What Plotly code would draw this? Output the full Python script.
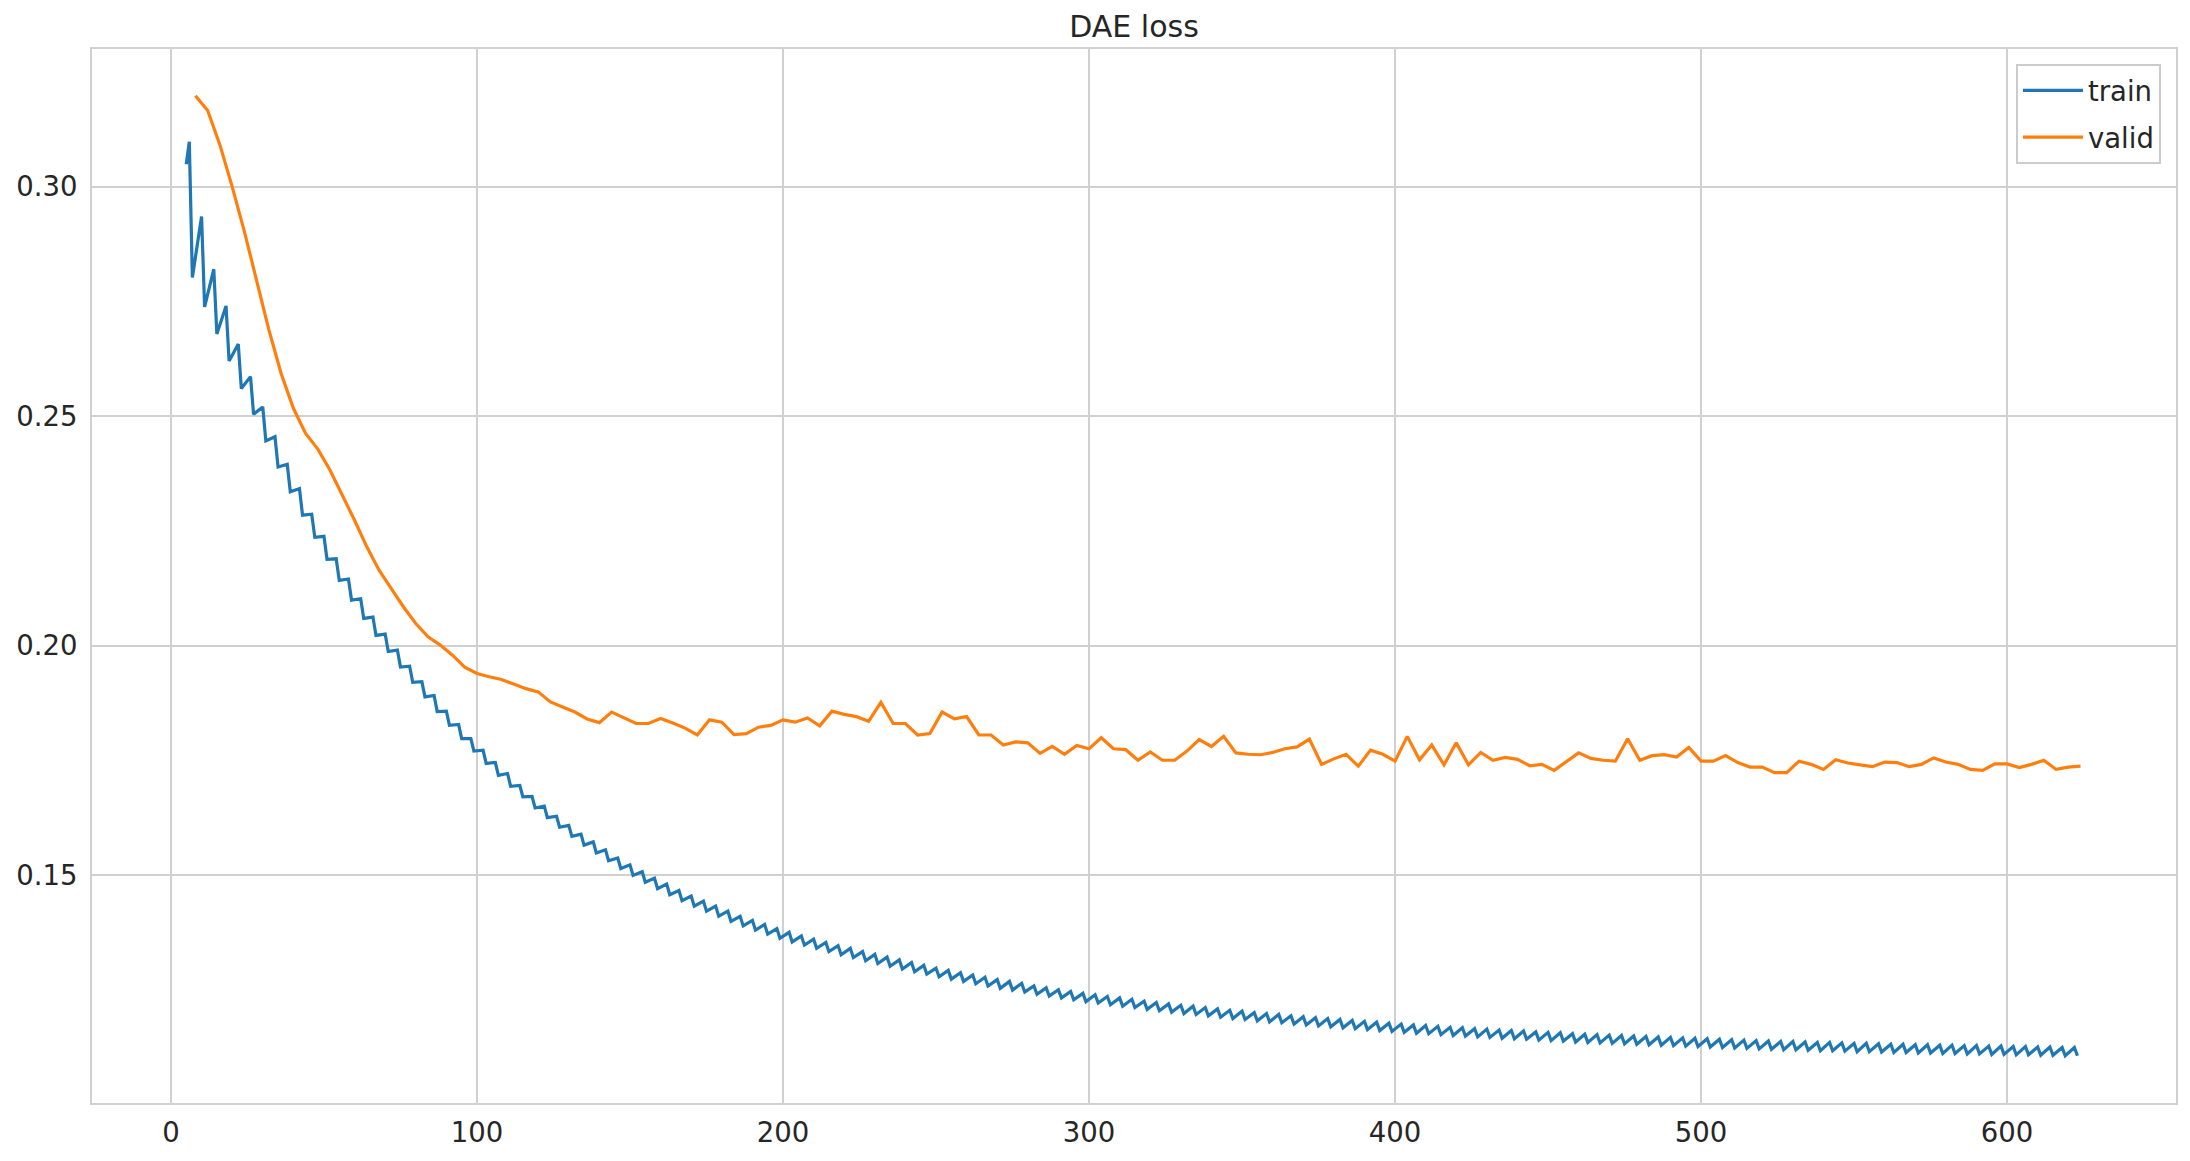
import plotly.graph_objects as go

# ---------------- data ----------------
train_first_epoch = 5
train_first_loss = 0.3049

# train loss sawtooth: peak at epochs 6, 10, ..., 622 ; trough at 7, 11, ..., 623
train_peaks = [
    0.3098, 0.2935, 0.2820, 0.2740, 0.2657, 0.2586, 0.2520, 0.2455, 0.2395, 0.2342,
    0.2286, 0.2238, 0.2189, 0.2145, 0.2102, 0.2062, 0.2025, 0.1990, 0.1955, 0.1921,
    0.1891, 0.1857, 0.1828, 0.1797, 0.1772, 0.1745, 0.1721, 0.1695,
    0.1671, 0.1650, 0.1628, 0.1608, 0.1589, 0.1572, 0.1555, 0.1537, 0.1522, 0.1507,
    0.1493, 0.1480, 0.1466, 0.1454, 0.1443, 0.1432, 0.1421, 0.1410, 0.1401, 0.1392,
    0.1383, 0.1375, 0.1367, 0.1360, 0.1353, 0.1346, 0.1340, 0.1333, 0.1327, 0.1321,
    0.1315, 0.1309, 0.1303, 0.1297, 0.1292, 0.1287, 0.1282, 0.1277, 0.1272, 0.1268,
    0.1264,
    0.1258, 0.1254, 0.1250, 0.1246, 0.1242, 0.1239, 0.1235, 0.1232, 0.1229, 0.1225,
    0.1222, 0.1219, 0.1216, 0.1214, 0.1211, 0.1208, 0.1205, 0.1203, 0.1200, 0.1198,
    0.1196, 0.1193, 0.1191, 0.1189, 0.1187, 0.1185, 0.1183, 0.1181, 0.1179, 0.1177,
    0.1175, 0.1173, 0.1172, 0.1170, 0.1168, 0.1167, 0.1165, 0.1164, 0.1162, 0.1161,
    0.1160, 0.1158, 0.1157, 0.1156, 0.1154, 0.1153, 0.1152, 0.1151, 0.1150, 0.1149,
    0.1148, 0.1147, 0.1146, 0.1145, 0.1144, 0.1143, 0.1142, 0.1141, 0.1140, 0.1139,
    0.1138, 0.1137, 0.1137, 0.1136, 0.1135, 0.1135, 0.1134, 0.1133, 0.1133, 0.1132,
    0.1131, 0.1131, 0.1130, 0.1130, 0.1129, 0.1129, 0.1128, 0.1128, 0.1127, 0.1127,
    0.1126, 0.1126, 0.1125, 0.1125, 0.1124, 0.1124,
]
train_troughs = [
    0.2802, 0.2738, 0.2679, 0.2620, 0.2560, 0.2504, 0.2446, 0.2389,
    0.2335, 0.2284, 0.2236, 0.2188, 0.2142, 0.2099, 0.2059, 0.2022, 0.1987, 0.1953,
    0.1920, 0.1888, 0.1856, 0.1826, 0.1797, 0.1770, 0.1743, 0.1717, 0.1693, 0.1670,
    0.1646, 0.1625, 0.1604, 0.1584, 0.1565, 0.1548, 0.1531, 0.1514, 0.1499, 0.1484,
    0.1470, 0.1457, 0.1444, 0.1432, 0.1421, 0.1410, 0.1399, 0.1389, 0.1380, 0.1371,
    0.1362,
    0.1354, 0.1347, 0.1340, 0.1333, 0.1326, 0.1320, 0.1313, 0.1307, 0.1301, 0.1295,
    0.1289, 0.1284, 0.1278, 0.1273, 0.1268, 0.1263, 0.1258, 0.1253, 0.1249, 0.1245,
    0.1240, 0.1236, 0.1232, 0.1228, 0.1224,
    0.1221, 0.1217, 0.1214, 0.1211, 0.1207, 0.1204, 0.1201, 0.1198, 0.1196, 0.1193,
    0.1190, 0.1187, 0.1185, 0.1182, 0.1180, 0.1178, 0.1175, 0.1173, 0.1171, 0.1169,
    0.1167, 0.1165, 0.1163, 0.1161, 0.1159, 0.1157, 0.1155, 0.1154, 0.1152, 0.1150,
    0.1149, 0.1147, 0.1146, 0.1144, 0.1143, 0.1142, 0.1140, 0.1139, 0.1138, 0.1136,
    0.1135, 0.1134, 0.1133, 0.1132, 0.1131, 0.1130, 0.1129, 0.1128, 0.1127, 0.1126,
    0.1125, 0.1124, 0.1123, 0.1122, 0.1121, 0.1120, 0.1119, 0.1119, 0.1118, 0.1117,
    0.1117, 0.1116, 0.1115, 0.1115, 0.1114, 0.1113, 0.1113, 0.1112, 0.1112, 0.1111,
    0.1111, 0.1110, 0.1110, 0.1109, 0.1109, 0.1108, 0.1108, 0.1107, 0.1107, 0.1106,
    0.1106,
]

valid_loss = [
    0.3198, 0.3166, 0.3091, 0.3000, 0.2902, 0.2797, 0.2688, 0.2593, 0.2517, 0.2462,
    0.2428, 0.2382, 0.2328, 0.2273, 0.2215, 0.2164, 0.2124, 0.2084, 0.2048, 0.2019,
    0.2001, 0.1979, 0.1953, 0.1939, 0.1932, 0.1926, 0.1916, 0.1906, 0.1899, 0.1877,
    0.1866, 0.1855, 0.1840, 0.1832, 0.1855, 0.1843, 0.1830, 0.1830, 0.1841, 0.1831,
    0.1820, 0.1805, 0.1838, 0.1833, 0.1806, 0.1808, 0.1822, 0.1826, 0.1838, 0.1833,
    0.1842, 0.1825, 0.1857, 0.1850, 0.1845, 0.1835, 0.1876, 0.1830, 0.1830, 0.1805,
    0.1808, 0.1855, 0.1840, 0.1845, 0.1805, 0.1805, 0.1783, 0.1790, 0.1788, 0.1765,
    0.1780, 0.1763, 0.1782, 0.1775, 0.1799, 0.1775, 0.1773, 0.1750, 0.1768, 0.1750,
    0.1750, 0.1770, 0.1795, 0.1780, 0.1802, 0.1766, 0.1763, 0.1762, 0.1767, 0.1775,
    0.1779, 0.1796, 0.1741, 0.1753, 0.1763, 0.1737, 0.1772, 0.1763, 0.1748, 0.1802,
    0.1751, 0.1783, 0.1740, 0.1788, 0.1740, 0.1767, 0.1750, 0.1756, 0.1752, 0.1738,
    0.1741, 0.1728, 0.1746, 0.1766, 0.1754, 0.1750, 0.1748, 0.1797, 0.1750, 0.1760,
    0.1762, 0.1757, 0.1778, 0.1748, 0.1748, 0.1760, 0.1745, 0.1735, 0.1735, 0.1723,
    0.1723, 0.1748, 0.1741, 0.1730, 0.1751, 0.1744, 0.1740, 0.1736, 0.1746, 0.1745,
    0.1736, 0.1741, 0.1755, 0.1746, 0.1741, 0.1730, 0.1728, 0.1742, 0.1742, 0.1734,
    0.1741, 0.1750, 0.1730, 0.1735, 0.1737,
]
valid_epochs = list(range(8, 8 + 4 * len(valid_loss), 4))

x_ticks = [0, 100, 200, 300, 400, 500, 600]
y_ticks = [0.15, 0.20, 0.25, 0.30]
y_tick_text = ["0.15", "0.20", "0.25", "0.30"]

# ---------------- assemble train series ----------------
train_epochs = [train_first_epoch]
train_loss = [train_first_loss]
n = min(len(train_peaks), len(train_troughs))
for k in range(n):
    train_epochs += [4 * (k + 1) + 2, 4 * (k + 1) + 3]
    train_loss += [train_peaks[k], train_troughs[k]]

W, H = 2190, 1161
L_M, R_M, T_M, B_M = 92, 14, 49, 58
FONT = "DejaVu Sans"
GRID = "#d0d0d0"
TXT = "#262626"
TICK_SIZE = 27.5

fig = go.Figure()
fig.add_trace(go.Scatter(x=train_epochs, y=train_loss, mode="lines", name="train",
                         legendgroup="train",
                         line=dict(color="#1f77b4", width=3.2)))
fig.add_trace(go.Scatter(x=valid_epochs, y=valid_loss, mode="lines", name="valid",
                         legendgroup="valid",
                         line=dict(color="#ff7f0e", width=3.2)))

fig.update_layout(
    width=W, height=H,
    margin=dict(l=L_M, r=R_M, t=T_M, b=B_M),
    paper_bgcolor="white", plot_bgcolor="white",
    font=dict(family=FONT, size=TICK_SIZE, color=TXT),
    title=dict(text="DAE loss", x=0.5 * (L_M + W - R_M) / W, xanchor="center",
               y=1 - 26 / H, yanchor="middle", yref="container",
               font=dict(family=FONT, size=30, color=TXT)),
    showlegend=True,
    legend=dict(x=0.9928, y=0.9858, xanchor="right", yanchor="top",
                bgcolor="rgba(255,255,255,0.8)", bordercolor="#cccccc", borderwidth=2,
                font=dict(family=FONT, size=TICK_SIZE, color=TXT),
                tracegroupgap=8, itemwidth=60),
)
fig.update_xaxes(range=[-25.8, 655.2], tickvals=x_ticks, ticktext=[str(v) for v in x_ticks],
                 showgrid=True, gridcolor=GRID, gridwidth=2, zeroline=False,
                 showline=True, mirror=True, linecolor=GRID, linewidth=2,
                 ticks="outside", ticklen=4, tickcolor="rgba(0,0,0,0)",
                 tickfont=dict(family=FONT, size=TICK_SIZE, color=TXT))
fig.update_yaxes(range=[0.1003, 0.3300], tickvals=y_ticks, ticktext=y_tick_text,
                 showgrid=True, gridcolor=GRID, gridwidth=2, zeroline=False,
                 showline=True, mirror=True, linecolor=GRID, linewidth=2,
                 ticks="outside", ticklen=7, tickcolor="rgba(0,0,0,0)",
                 tickfont=dict(family=FONT, size=TICK_SIZE, color=TXT))

fig.write_html("out.html")
